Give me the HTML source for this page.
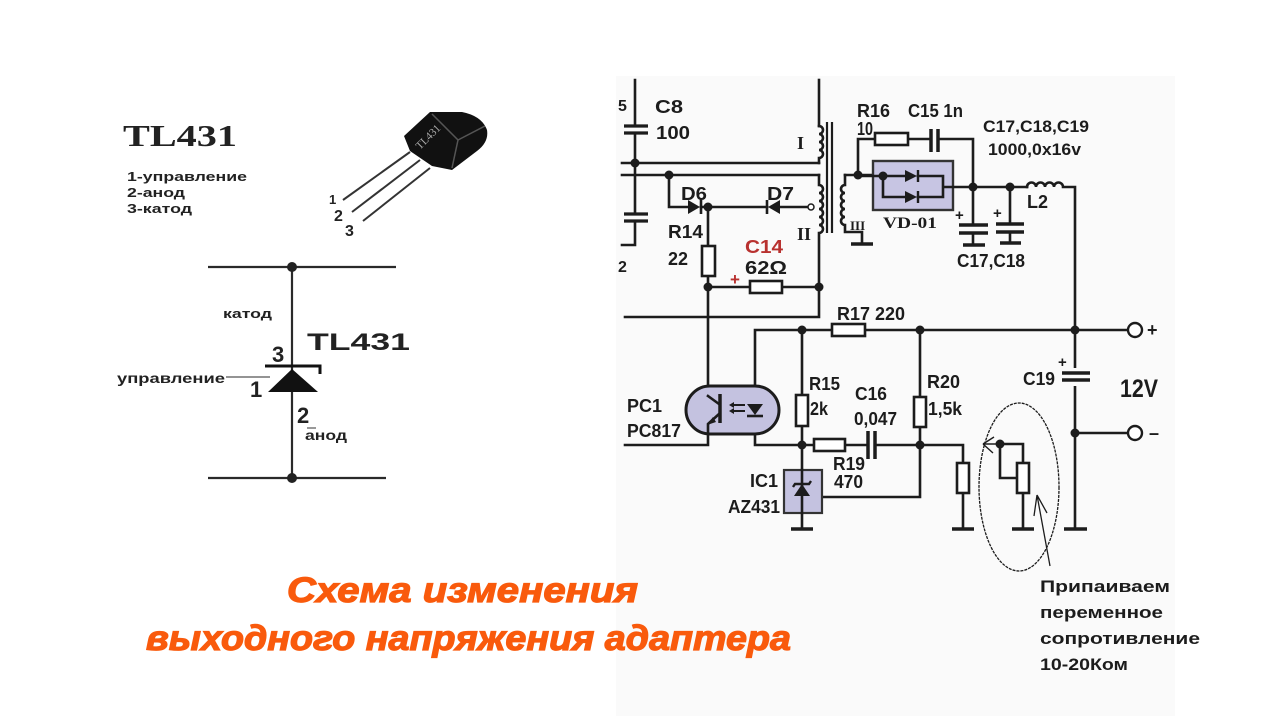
<!DOCTYPE html>
<html>
<head>
<meta charset="utf-8">
<style>
html,body{margin:0;padding:0;background:#fff;}
body{width:1276px;height:719px;overflow:hidden;}
svg{display:block;}
.w{fill:none;stroke:#1c1c1c;stroke-width:2.6;stroke-linecap:square;}
.wl{fill:none;stroke:#2a2a2a;stroke-width:2.2;}
.t{stroke:none;fill:#1c1c1c;font-family:"Liberation Sans","DejaVu Sans",sans-serif;font-weight:bold;font-size:18px;}
.r{fill:#fff;stroke:#1c1c1c;stroke-width:2.6;}
.d{fill:#1c1c1c;stroke:none;}
.gnd{stroke:#1c1c1c;stroke-width:3.5;}
</style>
</head>
<body>
<svg width="1276" height="719" viewBox="0 0 1276 719" xmlns="http://www.w3.org/2000/svg">
<rect x="0" y="0" width="1276" height="719" fill="#ffffff"/>
<rect x="616" y="76" width="559" height="640" fill="#fafafa"/>

<!-- ================= LEFT: TL431 ================= -->
<text x="123" y="146" font-family="'Liberation Serif','DejaVu Serif',serif" font-weight="bold" font-size="31" fill="#222" textLength="114" lengthAdjust="spacingAndGlyphs">TL431</text>
<g font-family="'Liberation Sans','DejaVu Sans',sans-serif" font-weight="bold" font-size="13" fill="#222">
<text x="127" y="181" textLength="120" lengthAdjust="spacingAndGlyphs">1-управление</text>
<text x="127" y="197" textLength="58" lengthAdjust="spacingAndGlyphs">2-анод</text>
<text x="127" y="213" textLength="65" lengthAdjust="spacingAndGlyphs">3-катод</text>
</g>

<!-- TO-92 package -->
<g>
<line x1="410" y1="152" x2="343" y2="200" stroke="#333" stroke-width="2"/>
<line x1="420" y1="160" x2="352" y2="212" stroke="#333" stroke-width="2"/>
<line x1="430" y1="168" x2="363" y2="221" stroke="#333" stroke-width="2"/>
<path d="M404,136 L430,112 L462,112 Q482,116 487,130 Q489,142 477,151 L452,170 L432,166 L410,151 Z" fill="#111"/>
<polyline points="432,114 458,140 452,168" fill="none" stroke="#555" stroke-width="1.5"/>
<line x1="458" y1="140" x2="485" y2="126" stroke="#555" stroke-width="1.5"/>
<text x="0" y="0" transform="translate(420,150) rotate(-45)" font-family="'Liberation Serif',serif" font-size="11" fill="#aaa">TL431</text>
</g>
<g font-family="'Liberation Sans','DejaVu Sans',sans-serif" font-weight="bold" fill="#222">
<text x="329" y="204" font-size="13">1</text>
<text x="334" y="221" font-size="16">2</text>
<text x="345" y="236" font-size="16">3</text>
</g>

<!-- symbol -->
<line class="wl" x1="208" y1="267" x2="396" y2="267"/>
<line class="wl" x1="208" y1="478" x2="386" y2="478"/>
<line class="wl" x1="292" y1="267" x2="292" y2="478"/>
<circle cx="292" cy="267" r="5" fill="#222"/>
<circle cx="292" cy="478" r="5" fill="#222"/>
<polygon points="292,369 268,392 318,392" fill="#111"/>
<polyline points="265,366 320,366 320,374" fill="none" stroke="#111" stroke-width="3"/>
<line x1="226" y1="377" x2="270" y2="377" stroke="#555" stroke-width="1.3"/>
<g font-family="'Liberation Sans','DejaVu Sans',sans-serif" font-weight="bold" fill="#222">
<text x="223" y="318" font-size="13" textLength="49" lengthAdjust="spacingAndGlyphs">катод</text>
<text x="307" y="350" font-size="24" textLength="103" lengthAdjust="spacingAndGlyphs">TL431</text>
<text x="272" y="362" font-size="22">3</text>
<text x="117" y="383" font-size="14" textLength="108" lengthAdjust="spacingAndGlyphs">управление</text>
<text x="250" y="397" font-size="22">1</text>
<text x="297" y="423" font-size="22">2</text>
<line x1="307" y1="428" x2="316" y2="428" stroke="#555" stroke-width="1.2"/>
<text x="305" y="440" font-size="14" textLength="42" lengthAdjust="spacingAndGlyphs">анод</text>
</g>

<!-- ================= RIGHT: schematic ================= -->
<path class="w" d="M635,80 V126 M635,134 V214 M635,222 V245 H622"/>
<line x1="624" y1="126" x2="648" y2="126" stroke="#1c1c1c" stroke-width="3.2"/>
<line x1="624" y1="133" x2="648" y2="133" stroke="#1c1c1c" stroke-width="3.2"/>
<line x1="624" y1="214" x2="648" y2="214" stroke="#1c1c1c" stroke-width="3.2"/>
<line x1="624" y1="221" x2="648" y2="221" stroke="#1c1c1c" stroke-width="3.2"/>
<circle class="d" cx="635" cy="163" r="4.5"/>
<path class="w" d="M622,163 H819 M622,175 H819"/>
<circle class="d" cx="669" cy="175" r="4.5"/>

<!-- transformer -->
<path class="w" d="M819,80 V126"/>
<path class="w" d="M819,126 a4,4 0 0 1 0,8 a4,4 0 0 1 0,8 a4,4 0 0 1 0,8 a4,4 0 0 1 0,8 V163"/>
<line x1="827" y1="122" x2="827" y2="233" stroke="#1c1c1c" stroke-width="2.2"/>
<line x1="832" y1="122" x2="832" y2="233" stroke="#1c1c1c" stroke-width="2.2"/>
<path class="w" d="M819,175 V185 a4,4 0 0 1 0,8 a4,4 0 0 1 0,8 a4,4 0 0 1 0,8 a4,4 0 0 1 0,8 a4,4 0 0 1 0,8 a4,4 0 0 1 0,8 V317 H625"/>
<path class="w" d="M845,175 V185 a4,4 0 0 0 0,8 a4,4 0 0 0 0,8 a4,4 0 0 0 0,8 a4,4 0 0 0 0,8 a4,4 0 0 0 0,8 V232 H862 V243"/>
<line class="gnd" x1="851" y1="244" x2="873" y2="244"/>
<path class="w" d="M845,175 H883"/>
<g font-family="'Liberation Serif','DejaVu Serif',serif" font-weight="bold" fill="#1c1c1c">
<text x="797" y="149" font-size="18">I</text>
<text x="797" y="240" font-size="18">II</text>
<text x="850" y="230" font-size="13">III</text>
</g>

<!-- D6, D7, R14, C14 -->
<path class="w" d="M669,175 V207 H688 M701,207 H767 M780,207 H808"/>
<polygon points="688,200 700,207 688,214" fill="#1c1c1c"/>
<line x1="701" y1="200" x2="701" y2="214" stroke="#1c1c1c" stroke-width="2.6"/>
<polygon points="768,207 780,200 780,214" fill="#1c1c1c"/>
<line x1="767" y1="200" x2="767" y2="214" stroke="#1c1c1c" stroke-width="2.6"/>
<circle cx="811" cy="207" r="3" fill="#fff" stroke="#1c1c1c" stroke-width="1.5"/>
<circle class="d" cx="708" cy="207" r="4.5"/>
<path class="w" d="M708,207 V246 M708,276 V396"/>
<rect class="r" x="702" y="246" width="13" height="30"/>
<circle class="d" cx="708" cy="287" r="4.5"/>
<path class="w" d="M708,287 H750 M782,287 H819"/>
<rect class="r" x="750" y="281" width="32" height="12"/>
<circle class="d" cx="819" cy="287" r="4.5"/>

<!-- R16, C15, VD-01 -->
<circle class="d" cx="858" cy="175" r="4.5"/>
<path class="w" d="M858,175 V139 H875 M908,139 H931 M938,139 H973 V187"/>
<rect class="r" x="875" y="133" width="33" height="12"/>
<line x1="931" y1="129" x2="931" y2="152" stroke="#1c1c1c" stroke-width="3.5"/>
<line x1="938" y1="129" x2="938" y2="152" stroke="#1c1c1c" stroke-width="3.5"/>
<rect x="873" y="161" width="80" height="49" fill="#c7c5e3" stroke="#333" stroke-width="2.4"/>
<path class="w" d="M858,176 H905 M918,176 H943 V197 H918 M905,197 H883 V176 M943,187 H1027"/>
<polygon points="905,170 917,176 905,182" fill="#1c1c1c"/>
<line x1="918" y1="170" x2="918" y2="182" stroke="#1c1c1c" stroke-width="2.4"/>
<polygon points="905,191 917,197 905,203" fill="#1c1c1c"/>
<line x1="918" y1="191" x2="918" y2="203" stroke="#1c1c1c" stroke-width="2.4"/>
<circle class="d" cx="883" cy="176" r="4.5"/>
<circle class="d" cx="973" cy="187" r="4.5"/>
<circle class="d" cx="1010" cy="187" r="4.5"/>
<text x="883" y="228" font-family="'Liberation Serif','DejaVu Serif',serif" font-weight="bold" font-size="16" fill="#1c1c1c" textLength="54" lengthAdjust="spacingAndGlyphs">VD-01</text>

<!-- L2 -->
<path class="w" d="M1027,187 a4.5,4.5 0 0 1 9,0 a4.5,4.5 0 0 1 9,0 a4.5,4.5 0 0 1 9,0 a4.5,4.5 0 0 1 9,0 H1075 V529"/>
<!-- C17 / C18 -->
<path class="w" d="M973,187 V225 M973,233 V244 M1010,187 V224 M1010,232 V243"/>
<line x1="959" y1="225" x2="988" y2="225" stroke="#1c1c1c" stroke-width="3.5"/>
<line x1="959" y1="233" x2="988" y2="233" stroke="#1c1c1c" stroke-width="3.5"/>
<line class="gnd" x1="963" y1="245" x2="985" y2="245"/>
<line x1="996" y1="224" x2="1024" y2="224" stroke="#1c1c1c" stroke-width="3.5"/>
<line x1="996" y1="232" x2="1024" y2="232" stroke="#1c1c1c" stroke-width="3.5"/>
<line class="gnd" x1="1000" y1="243" x2="1021" y2="243"/>

<!-- R17 line, outputs -->
<path class="w" d="M755,330 H832 M865,330 H1128 M755,330 V445 H802"/>
<rect class="r" x="832" y="324" width="33" height="12"/>
<circle class="d" cx="802" cy="330" r="4.5"/>
<circle class="d" cx="920" cy="330" r="4.5"/>
<circle class="d" cx="1075" cy="330" r="4.5"/>
<circle cx="1135" cy="330" r="7" fill="#fff" stroke="#1c1c1c" stroke-width="2.4"/>
<path class="w" d="M1075,433 H1128"/>
<circle class="d" cx="1075" cy="433" r="4.5"/>
<circle cx="1135" cy="433" r="7" fill="#fff" stroke="#1c1c1c" stroke-width="2.4"/>
<!-- C19 -->
<rect x="1068" y="368" width="14" height="18" fill="#fafafa"/>
<line x1="1062" y1="373" x2="1090" y2="373" stroke="#1c1c1c" stroke-width="3.5"/>
<line x1="1062" y1="380" x2="1090" y2="380" stroke="#1c1c1c" stroke-width="3.5"/>
<line class="gnd" x1="1064" y1="529" x2="1087" y2="529"/>

<!-- R15, R19, C16, R20 -->
<path class="w" d="M802,330 V395 M802,426 V529"/>
<rect class="r" x="796" y="395" width="12" height="31"/>
<circle class="d" cx="802" cy="445" r="4.5"/>
<path class="w" d="M802,445 H814 M845,445 H868 M875,445 H963 V463 M963,493 V529"/>
<rect class="r" x="814" y="439" width="31" height="12"/>
<line x1="868" y1="431" x2="868" y2="459" stroke="#1c1c1c" stroke-width="3.5"/>
<line x1="875" y1="431" x2="875" y2="459" stroke="#1c1c1c" stroke-width="3.5"/>
<path class="w" d="M920,330 V397 M920,427 V497 H802"/>
<rect class="r" x="914" y="397" width="12" height="30"/>
<circle class="d" cx="920" cy="445" r="4.5"/>
<rect class="r" x="957" y="463" width="12" height="30"/>
<line class="gnd" x1="952" y1="529" x2="974" y2="529"/>

<!-- potentiometer -->
<path class="w" d="M1000,444 H1023 V463 M1023,493 V529 M1000,444 V478 H1017"/>
<rect class="r" x="1017" y="463" width="12" height="30"/>
<circle class="d" cx="1000" cy="444" r="4.5"/>
<line class="gnd" x1="1012" y1="529" x2="1034" y2="529"/>
<path d="M1000,444 H983 M983,444 L994,437 M983,444 L993,453" fill="none" stroke="#1c1c1c" stroke-width="1.4"/>
<ellipse cx="1019" cy="487" rx="40" ry="84" fill="none" stroke="#1c1c1c" stroke-width="1.3" stroke-dasharray="3 1"/>
<path d="M1050,566 L1037,495 M1037,495 L1034,516 M1037,495 L1047,513" fill="none" stroke="#1c1c1c" stroke-width="1.3"/>

<!-- PC1 -->
<rect x="686" y="386" width="93" height="48" rx="24" ry="24" fill="#c4c2e0" stroke="#1c1c1c" stroke-width="3"/>
<path class="w" d="M708,396 L719,404 M719,414 L708,424 V445 H625"/>
<line x1="720" y1="394" x2="720" y2="423" stroke="#1c1c1c" stroke-width="3.5"/>
<polygon points="707,425 713,417 716,422" fill="#1c1c1c"/>
<path d="M745,405 H731 M745,411 H731" stroke="#1c1c1c" stroke-width="2"/>
<polygon points="729,405 734,402 734,408" fill="#1c1c1c"/>
<polygon points="729,411 734,408 734,414" fill="#1c1c1c"/>
<polygon points="747,404 763,404 755,415" fill="#1c1c1c"/>
<line x1="747" y1="416" x2="763" y2="416" stroke="#1c1c1c" stroke-width="2.6"/>

<!-- IC1 -->
<rect x="784" y="470" width="38" height="43" fill="#c4c2e0" stroke="#333" stroke-width="2.2"/>
<path class="w" d="M802,470 V513"/>
<polygon points="802,484 794,496 810,496" fill="#1c1c1c"/>
<polyline points="793,487 795,484 809,484 811,481" fill="none" stroke="#1c1c1c" stroke-width="2.4"/>
<line class="gnd" x1="791" y1="529" x2="813" y2="529"/>

<!-- labels right -->
<g class="t">
<text x="618" y="111" font-size="16">5</text>
<text x="618" y="272" font-size="16">2</text>
<text x="655" y="113" textLength="28" lengthAdjust="spacingAndGlyphs">C8</text>
<text x="656" y="139" textLength="34" lengthAdjust="spacingAndGlyphs">100</text>
<text x="681" y="200" textLength="26" lengthAdjust="spacingAndGlyphs">D6</text>
<text x="767" y="200" textLength="27" lengthAdjust="spacingAndGlyphs">D7</text>
<text x="668" y="238" textLength="35" lengthAdjust="spacingAndGlyphs">R14</text>
<text x="668" y="265" textLength="20" lengthAdjust="spacingAndGlyphs">22</text>
<text x="745" y="253" fill="#b8312f" textLength="38" lengthAdjust="spacingAndGlyphs">C14</text>
<text x="745" y="274" textLength="42" lengthAdjust="spacingAndGlyphs">62Ω</text>
<text x="730" y="285" fill="#b8312f" font-size="17">+</text>
<text x="857" y="117" textLength="33" lengthAdjust="spacingAndGlyphs">R16</text>
<text x="857" y="135" textLength="16" lengthAdjust="spacingAndGlyphs">10</text>
<text x="908" y="117" textLength="55" lengthAdjust="spacingAndGlyphs">C15 1n</text>
<text x="983" y="132" font-size="17" textLength="106" lengthAdjust="spacingAndGlyphs">C17,C18,C19</text>
<text x="988" y="155" font-size="17" textLength="93" lengthAdjust="spacingAndGlyphs">1000,0x16v</text>
<text x="1027" y="208" textLength="21" lengthAdjust="spacingAndGlyphs">L2</text>
<text x="955" y="220" font-size="15">+</text>
<text x="993" y="218" font-size="15">+</text>
<text x="957" y="267" textLength="68" lengthAdjust="spacingAndGlyphs">C17,C18</text>
<text x="837" y="320" textLength="68" lengthAdjust="spacingAndGlyphs">R17  220</text>
<text x="627" y="412" textLength="35" lengthAdjust="spacingAndGlyphs">PC1</text>
<text x="627" y="437" textLength="54" lengthAdjust="spacingAndGlyphs">PC817</text>
<text x="809" y="390" textLength="31" lengthAdjust="spacingAndGlyphs">R15</text>
<text x="810" y="415" textLength="18" lengthAdjust="spacingAndGlyphs">2k</text>
<text x="855" y="400" textLength="32" lengthAdjust="spacingAndGlyphs">C16</text>
<text x="854" y="425" textLength="43" lengthAdjust="spacingAndGlyphs">0,047</text>
<text x="833" y="470" textLength="32" lengthAdjust="spacingAndGlyphs">R19</text>
<text x="834" y="488" textLength="29" lengthAdjust="spacingAndGlyphs">470</text>
<text x="750" y="487" textLength="28" lengthAdjust="spacingAndGlyphs">IC1</text>
<text x="728" y="513" textLength="52" lengthAdjust="spacingAndGlyphs">AZ431</text>
<text x="927" y="388" textLength="33" lengthAdjust="spacingAndGlyphs">R20</text>
<text x="928" y="415" textLength="34" lengthAdjust="spacingAndGlyphs">1,5k</text>
<text x="1023" y="385" textLength="32" lengthAdjust="spacingAndGlyphs">C19</text>
<text x="1058" y="367" font-size="15">+</text>
<text x="1120" y="397" font-size="25" textLength="38" lengthAdjust="spacingAndGlyphs">12V</text>
<text x="1147" y="336" font-size="18">+</text>
<text x="1149" y="439" font-size="18">–</text>
<text x="1040" y="592" font-size="17" textLength="130" lengthAdjust="spacingAndGlyphs">Припаиваем</text>
<text x="1040" y="618" font-size="17" textLength="123" lengthAdjust="spacingAndGlyphs">переменное</text>
<text x="1040" y="644" font-size="17" textLength="160" lengthAdjust="spacingAndGlyphs">сопротивление</text>
<text x="1040" y="670" font-size="17" textLength="88" lengthAdjust="spacingAndGlyphs">10-20Ком</text>
</g>

<!-- title -->
<g font-family="'Liberation Sans','DejaVu Sans',sans-serif" font-weight="bold" font-style="italic" font-size="35" fill="#f95a0c" stroke="#f95a0c" stroke-width="1.2">
<text x="287" y="602" textLength="351" lengthAdjust="spacingAndGlyphs">Схема изменения</text>
<text x="146" y="650" textLength="645" lengthAdjust="spacingAndGlyphs">выходного напряжения адаптера</text>
</g>
</svg>
</body>
</html>
